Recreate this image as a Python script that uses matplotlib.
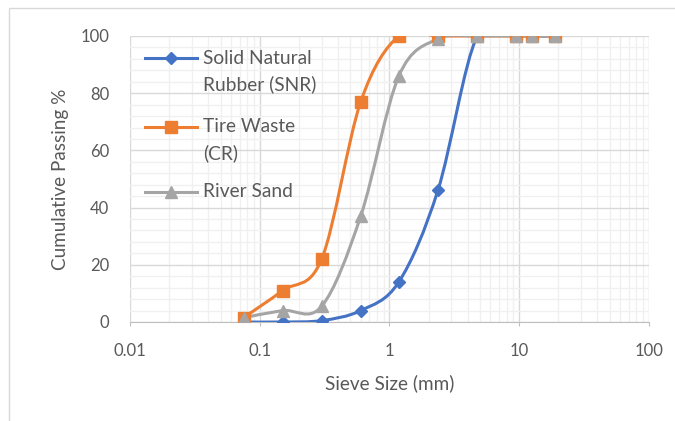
import numpy as np
import matplotlib.pyplot as plt
from matplotlib.path import Path
from matplotlib.patches import PathPatch, Rectangle
from matplotlib.lines import Line2D
from matplotlib.ticker import MultipleLocator, LogLocator

plt.rcParams['font.family'] = ['Lato', 'DejaVu Sans']

# sieve sizes (mm) and cumulative passing (%)
sieve = [0.075, 0.15, 0.3, 0.6, 1.18, 2.36, 4.75, 9.5, 12.5, 19]
snr = [0, 0, 0.5, 4, 14, 46, 100, 100, 100, 100]
crumb = [1.5, 11, 22, 77, 100, 100, 100, 100, 100, 100]
sand = [1.5, 4, 5.5, 37, 86, 99, 100, 100, 100, 100]

names = [['Solid Natural', 'Rubber (SNR)'], ['Tire Waste', '(CR)'], ['River Sand']]
colors = ['#4472C4', '#ED7D31', '#A5A5A5']
markers = ['D', 's', '^']
msizes = [6.5, 8.5, 8.5]
txt = '#595959'

W, H = 519.0, 286.0
fig = plt.figure(figsize=(6.75, 4.21), dpi=100)
ax = fig.add_axes([130 / 675, 1 - 322 / 421, W / 675, H / 421])
ax.set_xscale('log')
ax.set_xlim(0.01, 100)
ax.set_ylim(0, 100)

# chart border
fig.patches.append(Rectangle((9 / 675, -0.1), 1.2, 1 - 8 / 421 + 0.1,
                             transform=fig.transFigure, fill=False,
                             edgecolor='#d9d9d9', linewidth=1))


def smooth_path(xs, ys):
    # Excel-style smoothed line: bezier through points, built in screen-like units
    u = (np.log10(xs) + 2) / 4 * W
    v = np.asarray(ys, float) / 100 * H
    n = len(u)
    verts = [(u[0], v[0])]
    codes = [Path.MOVETO]
    for i in range(n - 1):
        p0 = np.array([u[max(i - 1, 0)], v[max(i - 1, 0)]])
        p1 = np.array([u[i], v[i]])
        p2 = np.array([u[i + 1], v[i + 1]])
        p3 = np.array([u[min(i + 2, n - 1)], v[min(i + 2, n - 1)]])
        c1 = p1 + (p2 - p0) / 6
        c2 = p2 - (p3 - p1) / 6
        verts += [tuple(c1), tuple(c2), tuple(p2)]
        codes += [Path.CURVE4] * 3
    verts = np.array(verts)
    dx = 10 ** (verts[:, 0] / W * 4 - 2)
    dy = verts[:, 1] / H * 100
    return Path(np.column_stack([dx, dy]), codes)


for ys, c, m, ms in zip([snr, crumb, sand], colors, markers, msizes):
    ax.add_patch(PathPatch(smooth_path(sieve, ys), facecolor='none', edgecolor=c,
                           linewidth=2.2, zorder=3, capstyle='round'))
    ax.plot(sieve, ys, linestyle='none', marker=m, markersize=ms, color=c, zorder=4)

# grid
ax.yaxis.set_major_locator(MultipleLocator(20))
ax.yaxis.set_minor_locator(MultipleLocator(4))
ax.xaxis.set_minor_locator(LogLocator(base=10, subs=np.arange(2, 10), numticks=10))
ax.grid(which='minor', color='#f0f0f0', linewidth=1, zorder=0)
ax.grid(which='major', color='#d9d9d9', linewidth=1, zorder=1)
ax.set_axisbelow(True)
for s in ['top', 'right', 'left']:
    ax.spines[s].set_visible(False)
ax.spines['bottom'].set_color('#bfbfbf')
ax.spines['bottom'].set_zorder(2)
ax.set_xticks([0.01, 0.1, 1, 10, 100])
ax.set_xticklabels(['0.01', '0.1', '1', '10', '100'])
ax.tick_params(axis='x', which='major', length=3, color='#bfbfbf', labelsize=12,
               labelcolor=txt, pad=12)
ax.tick_params(axis='x', which='minor', length=0)
ax.tick_params(axis='y', which='both', length=0, labelsize=12, labelcolor=txt, pad=15)

ax.set_xlabel('Sieve Size (mm)', fontsize=13.6, color=txt, labelpad=11)
ax.set_ylabel('Cumulative Passing %', fontsize=13.6, color=txt, labelpad=8)

# legend, drawn by hand so the key sits on the first text line (as in Excel)
rows = [0.923, 0.682, 0.455]
for lines, c, m, ms, yr in zip(names, colors, markers, msizes, rows):
    ax.add_line(Line2D([0.0289, 0.1291], [yr, yr], transform=ax.transAxes,
                       color=c, linewidth=2.2, zorder=5))
    ax.add_line(Line2D([0.079], [yr], transform=ax.transAxes, color=c,
                       marker=m, markersize=ms, zorder=6))
    for k, line in enumerate(lines):
        ax.text(0.1407, yr - k * 26 / H, line, transform=ax.transAxes,
                fontsize=13.8, color=txt, va='center', ha='left', zorder=6)

fig.savefig('out.png', dpi=100)
